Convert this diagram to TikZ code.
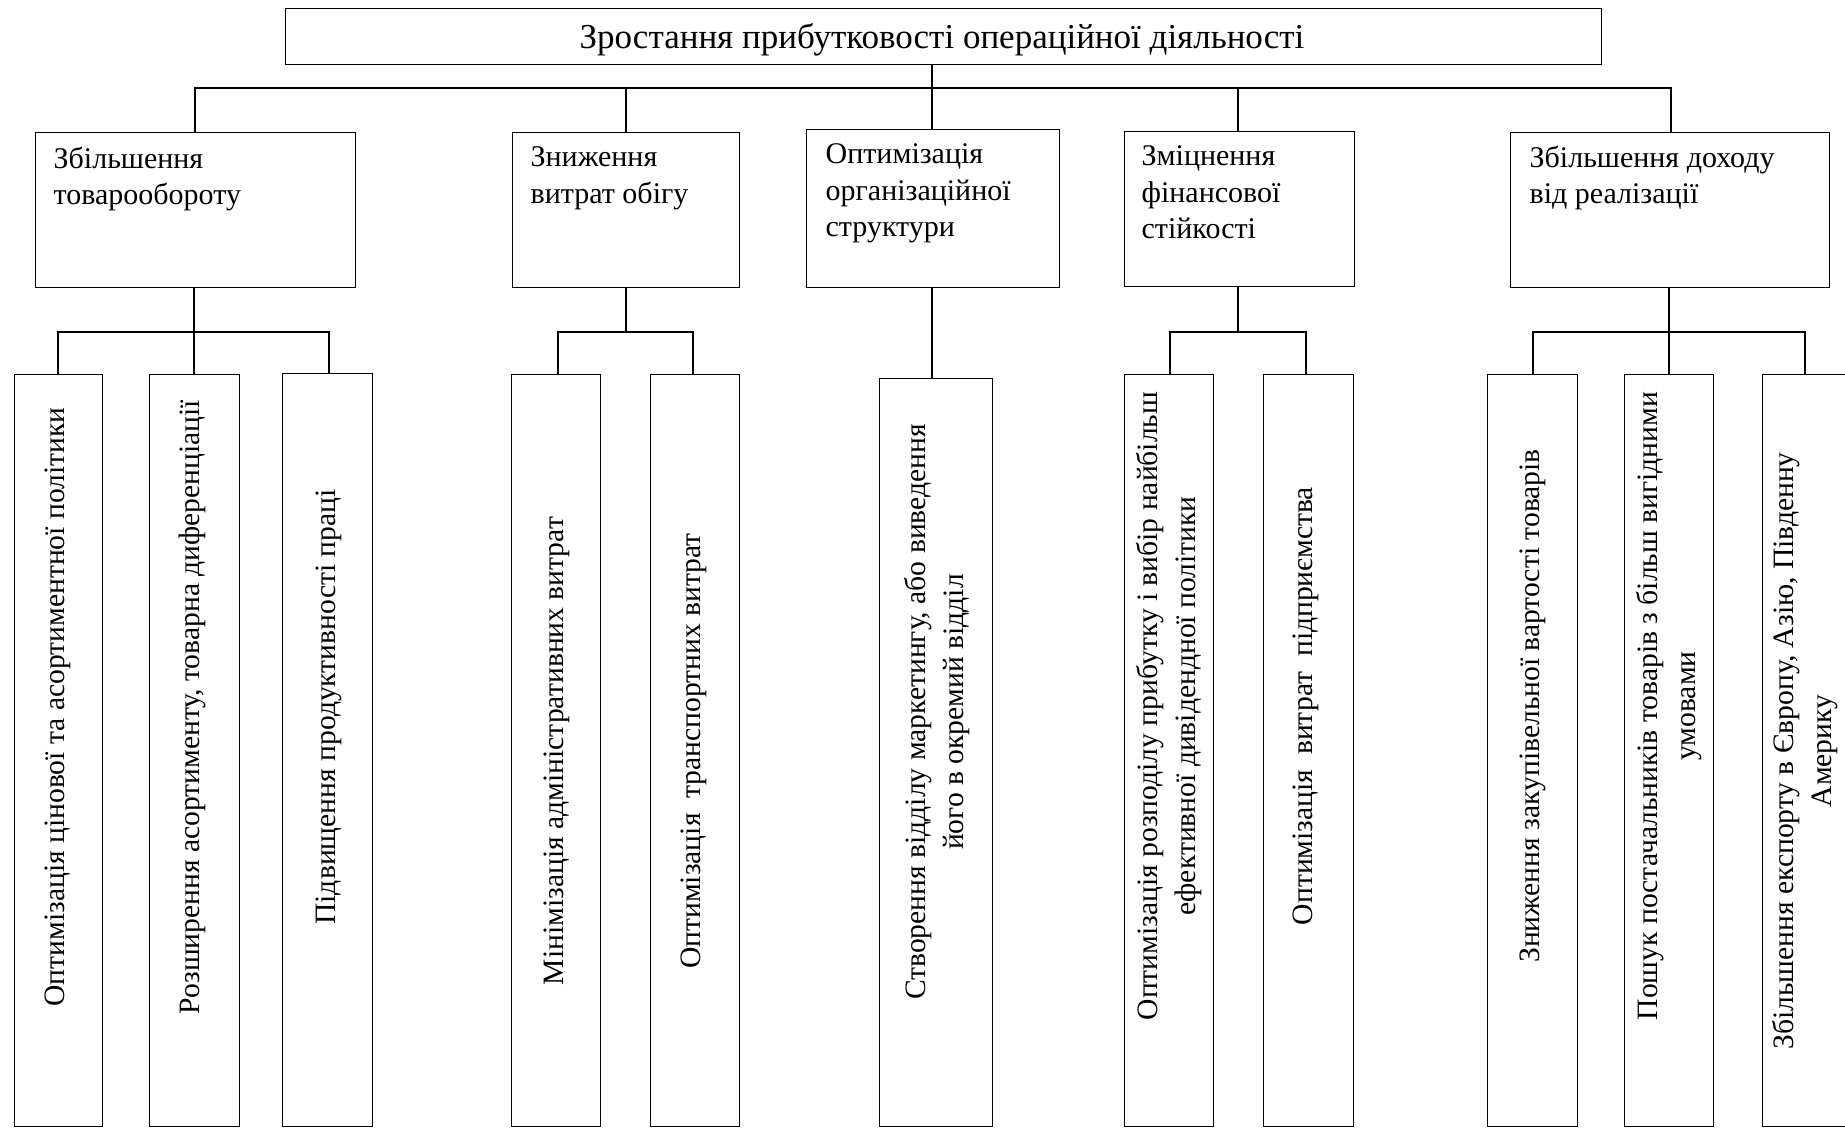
\documentclass[tikz,border=0pt]{standalone}
\usepackage{fontspec}
\setmainfont{Liberation Serif}
\begin{document}
\begin{tikzpicture}[x=1pt,y=-1pt, line width=1.3pt,
  bx/.style={draw, inner sep=0pt, anchor=north west},
  lvl/.style={anchor=north west, align=left, inner sep=0pt, font=\fontsize{30}{36.5}\selectfont},
  lf/.style={rotate=90, align=center, inner sep=0pt, font=\fontsize{29.6}{37.5}\selectfont},
  conn/.style={draw, line width=1.3pt}]
\useasboundingbox (0,0) rectangle (1845,1129);
% top
\node[bx, minimum width=1316pt, minimum height=56pt] (top) at (285,8) {};
\node[anchor=base, inner sep=0pt, font=\fontsize{35}{38}\selectfont] (toptext) at (942,49) {Зростання прибутковості операційної діяльності};
% level 2
\node[bx, minimum width=320pt, minimum height=155pt] (b1) at (35,132) {};
\node[bx, minimum width=227pt, minimum height=155pt] (b2) at (512,132) {};
\node[bx, minimum width=253pt, minimum height=158pt] (b3) at (806,129) {};
\node[bx, minimum width=230pt, minimum height=155pt] (b4) at (1124,131) {};
\node[bx, minimum width=319pt, minimum height=155pt] (b5) at (1510,132) {};
\node[lvl] (t1) at (53,146) {Збільшення\\товарообороту};
\node[lvl] (t2) at (530,146) {Зниження\\витрат обігу};
\node[lvl] (t3) at (825,143) {Оптимізація\\організаційної\\структури};
\node[lvl] (t4) at (1141,145) {Зміцнення\\фінансової\\стійкості};
\node[lvl] (t5) at (1529,145) {Збільшення доходу\\від реалізації};
% leaves
\foreach \n/\x/\w/\y in {L1/14/88/374, L2/149/90/374, L3/282/90/373, L4/511/89/374, L5/650/89/374, L6/879/113/378, L7/1124/89/374, L8/1263/90/374, L9/1487/90/374, L10/1624/89/374, L11/1762/90/374}
  \node[bx, minimum width=\w pt, minimum height={1126pt-\y pt}] (\n) at (\x,\y) {};
\node[lf] (x1) at (58,707) {Оптимізація цінової та асортиментної політики};
\node[lf] (x2) at (192,707) {Розширення асортименту, товарна диференціації};
\node[lf] (x3) at (329,707) {Підвищення продуктивності праці};
\node[lf] (x4) at (557,751) {Мінімізація адміністративних витрат};
\node[lf] (x5) at (694,751) {Оптимізація\ \ транспортних витрат};
\node[lf] (x6) at (937,712) {Створення відділу маркетингу, або виведення\\його в окремий відділ};
\node[lf] (x7) at (1169,706) {Оптимізація розподілу прибутку і вибір найбільш\\ефективної дивідендної політики};
\node[lf] (x8) at (1306,706) {Оптимізація\ \ витрат\ \ підприємства};
\node[lf] (x9) at (1533,706) {Зниження закупівельної вартості товарів};
\node[lf] (x10) at (1669,706) {Пошук постачальників товарів з більш вигідними\\умовами};
\node[lf] (x11) at (1805,751) {Збільшення експорту в Європу, Азію, Південну\\Америку};
% connectors top level
\coordinate (jt) at (932,88);
\draw (top.south -| jt) -- (jt);
\draw (b1.north -| 195,0) |- (jt);
\draw (jt) -| (b5.north -| 1671,0);
\draw (b2.north -| 626,0) -- (626,88);
\draw (jt) -- (b3.north -| jt);
\draw (b4.north -| 1238,0) -- (1238,88);
% group 1
\coordinate (j1) at (194,332);
\draw (b1.south -| j1) -- (j1);
\draw (L1.north -| 58,0) |- (j1) -| (L3.north -| 329,0);
\draw (j1) -- (L2.north -| j1);
% group 2
\coordinate (j2) at (626,332);
\draw (b2.south -| j2) -- (j2);
\draw (L4.north -| 558,0) |- (j2) -| (L5.north -| 693,0);
% group 3
\draw (b3.south -| jt) -- (L6.north -| jt);
% group 4
\coordinate (j4) at (1238,332);
\draw (b4.south -| j4) -- (j4);
\draw (L7.north -| 1170,0) |- (j4) -| (L8.north -| 1306,0);
% group 5
\coordinate (j5) at (1669,332);
\draw (b5.south -| j5) -- (j5);
\draw (L9.north -| 1533,0) |- (j5) -| (L11.north -| 1805,0);
\draw (j5) -- (L10.north -| j5);
\end{tikzpicture}
\end{document}
